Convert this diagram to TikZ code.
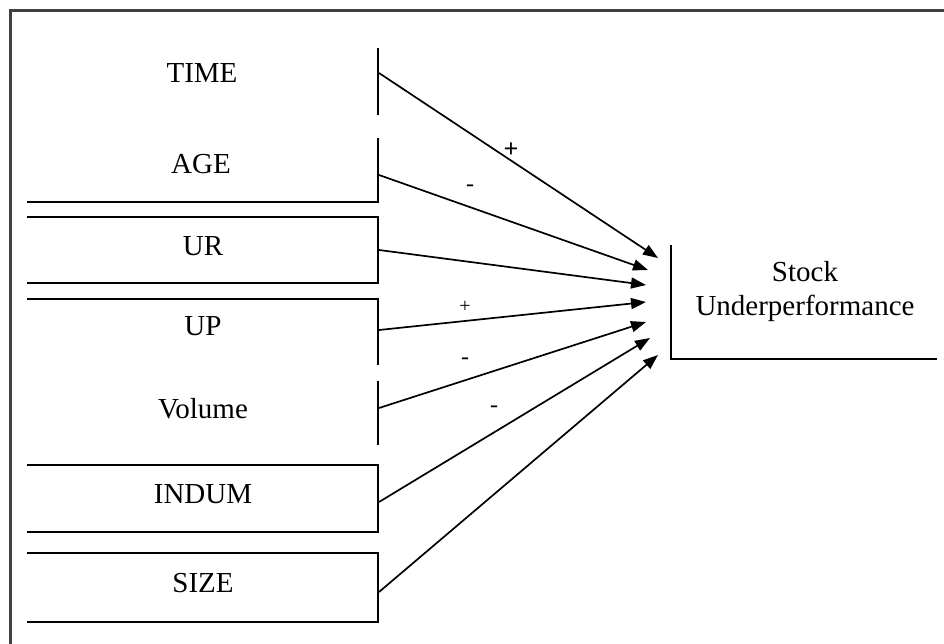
\documentclass[tikz,border=0pt]{standalone}
\usepackage{fontspec}
\setmainfont{Liberation Serif}
\usetikzlibrary{arrows.meta}
\begin{document}
\begin{tikzpicture}[x=1pt,y=-1pt,
  frameline/.style={line width=3pt,draw=black!75},
  boxline/.style={line width=2pt,draw=black},
  lbl/.style={font=\fontsize{29}{33}\selectfont,inner sep=0pt},
  sign/.style={font=\fontsize{24}{26}\selectfont,inner sep=0pt},
  conn/.style={line width=1.7pt,-{Triangle[length=15pt,width=11pt]}}]
\useasboundingbox (0,0) rectangle (944,644);
% frame
\draw[frameline] (944,11) -- (10,11) -- (10,644);
% variable boxes
\draw[boxline] (378,48) -- (378,115);
\draw[boxline] (378,138) -- (378,202) -- (27,202);
\draw[boxline] (27,217) -- (378,217) -- (378,283) -- (27,283);
\draw[boxline] (27,299) -- (378,299) -- (378,365);
\draw[boxline] (378,381) -- (378,445);
\draw[boxline] (27,465) -- (378,465) -- (378,532) -- (27,532);
\draw[boxline] (27,553) -- (378,553) -- (378,622) -- (27,622);
\node[lbl] (time) at (202,73) {TIME};
\node[lbl] (age) at (201,164) {AGE};
\node[lbl] (ur) at (203,246) {UR};
\node[lbl] (up) at (203,326) {UP};
\node[lbl] (vol) at (203,409) {Volume};
\node[lbl] (indum) at (203,494) {INDUM};
\node[lbl] (size) at (203,583) {SIZE};
% outcome
\draw[boxline] (671,245) -- (671,359) -- (937,359);
\node[lbl] (stock) at (805,272) {Stock};
\node[lbl] (under) at (805,308) {Underperformance};
% connector endpoints
\coordinate (s1) at (379,73);  \coordinate (e1) at (658,258);
\coordinate (s2) at (379,175); \coordinate (e2) at (648,270);
\coordinate (s3) at (379,250); \coordinate (e3) at (646,285);
\coordinate (s4) at (379,330); \coordinate (e4) at (646,302);
\coordinate (s5) at (379,408); \coordinate (e5) at (646,322);
\coordinate (s6) at (379,502); \coordinate (e6) at (650,338);
\coordinate (s7) at (379,592); \coordinate (e7) at (658,355);
\foreach \i in {1,...,7} \draw[conn] (s\i) -- (e\i);
% signs
\node[sign,font=\fontsize{26}{28}\bfseries] (p1) at (511,150) {+};
\node[sign] (m2) at (470,188) {-};
\node[sign,font=\fontsize{20}{22}\selectfont] (p4) at (465,307) {+};
\node[sign] (m5) at (465,361) {-};
\node[sign] (m6) at (494,409) {-};
\end{tikzpicture}
\end{document}
